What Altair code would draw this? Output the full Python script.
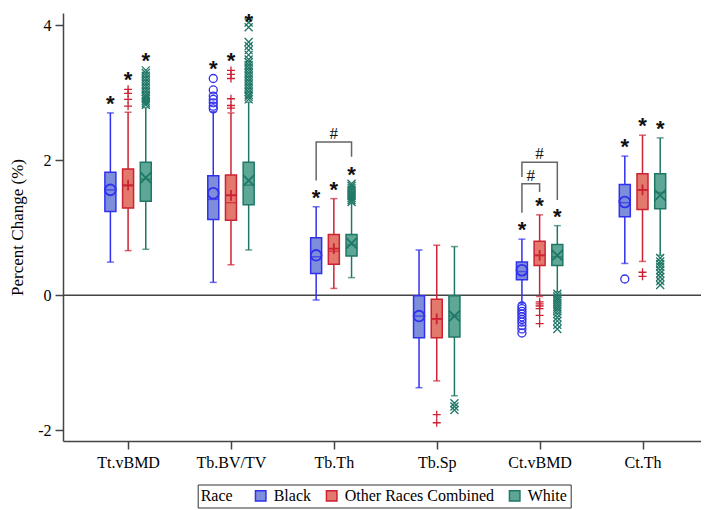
import altair as alt
import pandas as pd

categories = ["Tt.vBMD", "Tb.BV/TV", "Tb.Th", "Tb.Sp", "Ct.vBMD", "Ct.Th"]
races = ["Black", "Other Races Combined", "White"]

# Box statistics (percent change), in category order
black_wlo = [0.49, 0.19, -0.07, -1.37, -0.12, 0.47]
black_q1 = [1.24, 1.12, 0.32, -0.63, 0.23, 1.16]
black_med = [1.56, 1.42, 0.57, -0.31, 0.35, 1.37]
black_q3 = [1.82, 1.77, 0.85, -0.01, 0.49, 1.64]
black_whi = [2.70, 2.72, 1.31, 0.67, 0.83, 2.06]
black_mean = [1.56, 1.51, 0.59, -0.31, 0.37, 1.38]

other_wlo = [0.66, 0.45, 0.10, -1.27, -0.02, 0.50]
other_q1 = [1.29, 1.11, 0.46, -0.63, 0.44, 1.27]
other_med = [1.62, 1.37, 0.65, -0.35, 0.59, 1.56]
other_q3 = [1.87, 1.78, 0.90, -0.06, 0.80, 1.80]
other_whi = [2.71, 2.70, 1.43, 0.74, 1.19, 2.37]
other_mean = [1.63, 1.48, 0.69, -0.35, 0.59, 1.56]

white_wlo = [0.68, 0.67, 0.26, -1.49, 0.05, 0.59]
white_q1 = [1.39, 1.34, 0.58, -0.62, 0.44, 1.28]
white_med = [1.72, 1.63, 0.75, -0.31, 0.57, 1.52]
white_q3 = [1.97, 1.97, 0.90, -0.01, 0.75, 1.80]
white_whi = [2.78, 2.86, 1.36, 0.72, 1.03, 2.33]
white_mean = [1.74, 1.70, 0.77, -0.31, 0.59, 1.48]

# Outliers
black_out = {
    "Tb.BV/TV": [3.21, 3.04, 2.95, 2.90, 2.85, 2.80, 2.76],
    "Ct.vBMD": [-0.16, -0.20, -0.24, -0.28, -0.32, -0.36, -0.40, -0.45, -0.50, -0.56],
    "Ct.Th": [0.24],
}
other_out = {
    "Tt.vBMD": [3.05, 2.99, 2.90, 2.80],
    "Tb.BV/TV": [3.33, 3.27, 3.21, 2.91, 2.81, 2.77],
    "Tb.Sp": [-1.77, -1.89],
    "Ct.vBMD": [-0.10, -0.13, -0.16, -0.20, -0.30, -0.42],
    "Ct.Th": [0.34, 0.28],
}
white_out = {
    "Tt.vBMD": [3.33, 3.29, 3.25, 3.21, 3.17, 3.13, 3.09, 3.05, 3.01, 2.97, 2.94, 2.91, 2.88, 2.85, 2.82],
    "Tb.BV/TV": [4.04, 3.97, 3.75, 3.69, 3.63, 3.56, 3.49, 3.45, 3.41, 3.37, 3.33, 3.29, 3.25,
                 3.21, 3.17, 3.13, 3.09, 3.05, 3.01, 2.97, 2.94, 2.90],
    "Tb.Th": [1.65, 1.62, 1.59, 1.56, 1.53, 1.50, 1.47, 1.44, 1.41, 1.38],
    "Tb.Sp": [-1.60, -1.65, -1.70],
    "Ct.vBMD": [0.02, -0.02, -0.05, -0.08, -0.11, -0.14, -0.17, -0.20, -0.24, -0.28, -0.33, -0.38, -0.44, -0.50],
    "Ct.Th": [0.55, 0.50, 0.46, 0.42, 0.37, 0.32, 0.27, 0.21, 0.15],
}

# Significance markers (*) per category
black_sig = [True, True, True, False, True, True]
other_sig = [True, True, True, False, True, True]
white_sig = [True, True, True, False, True, True]

# Between-race comparison brackets (#)
bracket_cat = ["Tb.Th", "Ct.vBMD", "Ct.vBMD"]
bracket_left = ["Black", "Black", "Black"]
bracket_right = ["White", "Other Races Combined", "White"]
bracket_top = [2.27, 1.65, 1.97]
bracket_left_end = [1.70, 1.22, 1.75]
bracket_right_end = [2.05, 1.53, 1.41]

fill_colors = ["#7d8fda", "#e3796c", "#5ea796"]
stroke_colors = ["#3030ee", "#cc2233", "#1f7766"]
OFF = 0.172  # within-group spacing in category units
Y_MIN, Y_MAX = -2.16, 4.18

stats = {
    "Black": (black_wlo, black_q1, black_med, black_q3, black_whi, black_mean, black_out, black_sig),
    "Other Races Combined": (other_wlo, other_q1, other_med, other_q3, other_whi, other_mean, other_out, other_sig),
    "White": (white_wlo, white_q1, white_med, white_q3, white_whi, white_mean, white_out, white_sig),
}

def xpos(cat, race):
    return categories.index(cat) + (races.index(race) - 1) * OFF

box_rows, out_rows, star_rows = [], [], []
for race in races:
    wlo, q1, med, q3, whi, mean, outs, sig = stats[race]
    for ci, cat in enumerate(categories):
        x = xpos(cat, race)
        box_rows.append(dict(race=race, sym=race, cat=cat, x=x, wlo=wlo[ci], q1=q1[ci],
                             med=med[ci], q3=q3[ci], whi=whi[ci], mean=mean[ci]))
        vals = outs.get(cat, [])
        for v in vals:
            out_rows.append(dict(race=race, sym=race, cat=cat, x=x, v=v))
        if sig[ci]:
            top = max([whi[ci]] + vals)
            # star sits just above the highest point, kept inside the drawing area
            star_rows.append(dict(race=race, x=x, top=min(top + 0.03, Y_MAX - 0.23)))
box_df = pd.DataFrame(box_rows)
out_df = pd.DataFrame(out_rows)
star_df = pd.DataFrame(star_rows)

br_rows, br_lab = [], []
for i in range(len(bracket_cat)):
    xl = xpos(bracket_cat[i], bracket_left[i])
    xr = xpos(bracket_cat[i], bracket_right[i])
    pts = [(xl, bracket_left_end[i]), (xl, bracket_top[i]), (xr, bracket_top[i]), (xr, bracket_right_end[i])]
    for k, (px, py) in enumerate(pts):
        br_rows.append(dict(bid=i, ord=k, x=px, y=py))
    br_lab.append(dict(x=(xl + xr) / 2, y=bracket_top[i]))
br_df = pd.DataFrame(br_rows)
brl_df = pd.DataFrame(br_lab)

SERIF = "Times New Roman, Liberation Serif, serif"
AX = "#444444"
label_expr = "[" + ",".join("'%s'" % c for c in categories) + "][datum.value]"

xs = alt.Scale(domain=[-0.584, 5.52], nice=False, zero=False)
ys = alt.Scale(domain=[Y_MIN, Y_MAX], nice=False, zero=False)
x_enc = alt.X("x:Q", scale=xs, axis=alt.Axis(
    values=list(range(len(categories))), labelExpr=label_expr, title=None, grid=False,
    domainColor=AX, domainWidth=1.5, tickColor=AX, tickWidth=1.5, tickSize=8,
    labelFont=SERIF, labelFontSize=16, labelColor="black", labelPadding=5))
y_axis = alt.Axis(values=[-2, 0, 2, 4], labelExpr="'' + datum.value", grid=False,
                  title="Percent Change (%)", titleFont=SERIF, titleFontSize=17,
                  titleFontWeight="normal", titleColor="black", titleX=-46, titleY=214,
                  titleAngle=-90, titleAlign="center", titleBaseline="middle",
                  domainColor=AX, domainWidth=1.5, tickColor=AX, tickWidth=1.5, tickSize=8,
                  labelFont=SERIF, labelFontSize=16, labelColor="black", labelPadding=4)

# legend scales (explicit domain) and unlegended scales (data-derived domain, alphabetical)
stroke_sc = alt.Scale(domain=races, range=stroke_colors)
fill_sc = alt.Scale(domain=races, range=fill_colors)
color_sc = alt.Scale(range=stroke_colors)
shape_sc = alt.Scale(range=["circle", "M-1,0L1,0M0,-1L0,1", "M-1,-1L1,1M-1,1L1,-1"])
color_nl = alt.Color("race:N", scale=color_sc, legend=None)

zero = alt.Chart(pd.DataFrame({"z": [0]})).mark_rule(color=AX, strokeWidth=1.5).encode(
    y=alt.Y("z:Q", scale=ys, axis=y_axis))

base = alt.Chart(box_df)
whisk = base.mark_rule(strokeWidth=1.5).encode(x=x_enc, y=alt.Y("wlo:Q", scale=ys, axis=y_axis),
                                                y2="whi:Q", color=color_nl)
cap_lo = base.mark_tick(orient="horizontal", size=7, thickness=1.5).encode(
    x=x_enc, y=alt.Y("wlo:Q", scale=ys), color=color_nl)
cap_hi = base.mark_tick(orient="horizontal", size=7, thickness=1.5).encode(
    x=x_enc, y=alt.Y("whi:Q", scale=ys), color=color_nl)
leg = alt.Legend(title="Race", orient="none", legendX=134.7, legendY=471.5, direction="horizontal",
                 columns=3, titleOrient="left", symbolType="square", symbolSize=110,
                 symbolStrokeWidth=1.5, labelOffset=5, columnPadding=11, titlePadding=20,
                 padding=3, strokeColor="#333333", fillColor="white")
box = base.mark_bar(size=11, strokeWidth=1.5).encode(
    x=x_enc, y=alt.Y("q1:Q", scale=ys), y2="q3:Q",
    fill=alt.Fill("race:N", scale=fill_sc, legend=leg),
    stroke=alt.Stroke("race:N", scale=stroke_sc, legend=leg))
median = base.mark_tick(orient="horizontal", size=11, thickness=1.5).encode(
    x=x_enc, y=alt.Y("med:Q", scale=ys), color=color_nl)
means = base.mark_point(filled=False, strokeWidth=1.8, size=115, opacity=1).encode(
    x=x_enc, y=alt.Y("mean:Q", scale=ys), color=color_nl,
    shape=alt.Shape("sym:N", scale=shape_sc, legend=None))
outl = alt.Chart(out_df).mark_point(filled=False, strokeWidth=1.3, size=64, opacity=1).encode(
    x=x_enc, y=alt.Y("v:Q", scale=ys), color=color_nl,
    shape=alt.Shape("sym:N", scale=shape_sc, legend=None))
stars = alt.Chart(star_df).mark_text(text="*", font="Liberation Sans", fontSize=22, fontWeight="bold",
                                     color="#111111", baseline="alphabetic").encode(
    x=x_enc, y=alt.Y("top:Q", scale=ys))
brackets = alt.Chart(br_df).mark_line(color="#666666", strokeWidth=1.5).encode(
    x=x_enc, y=alt.Y("y:Q", scale=ys), detail="bid:N", order="ord:Q")
hashes = alt.Chart(brl_df).mark_text(text="#", font=SERIF, fontSize=17, color="#111111",
                                     baseline="alphabetic", dy=-3).encode(
    x=x_enc, y=alt.Y("y:Q", scale=ys))

chart = alt.layer(zero, whisk, cap_lo, cap_hi, box, median, means, outl, stars, brackets, hashes).properties(
    width=638, height=428,
    padding={"left": 55, "top": 5, "right": 0, "bottom": 69},
    autosize=alt.AutoSizeParams(type="none"),
).configure_view(stroke=None).configure_legend(
    titleFont=SERIF, titleFontSize=16, titleFontWeight="normal", titleColor="black",
    labelFont=SERIF, labelFontSize=16, labelColor="black", labelLimit=300)

chart.save("out.html", embed_options={"renderer": "svg", "actions": False})
